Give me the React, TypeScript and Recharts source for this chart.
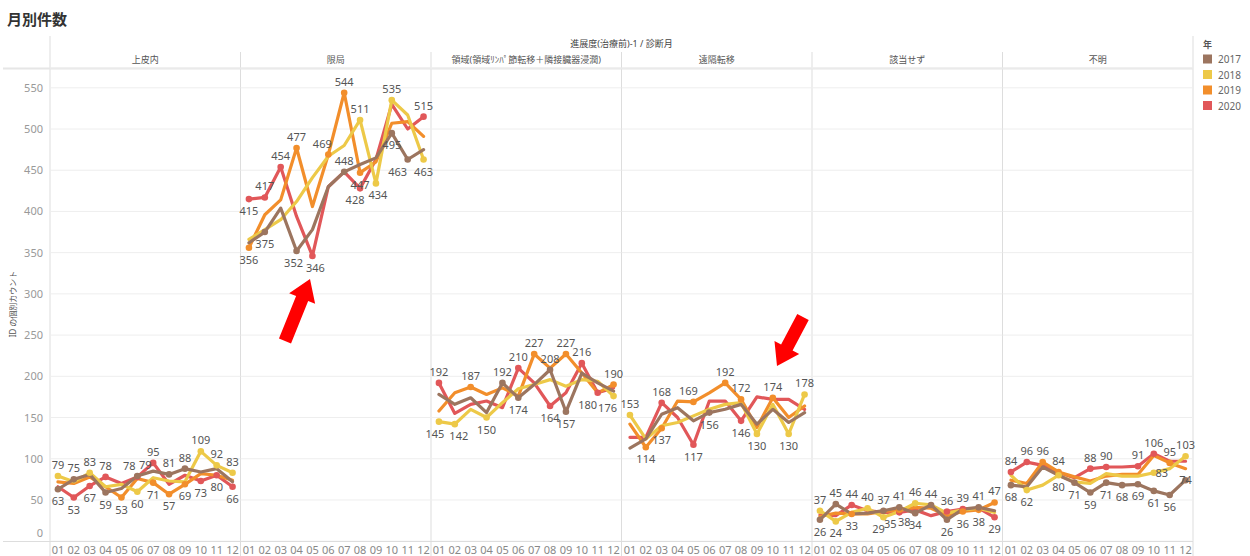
import { LineChart, Line, XAxis, YAxis, CartesianGrid } from "recharts";

const months = ["01", "02", "03", "04", "05", "06", "07", "08", "09", "10", "11", "12"];
const panels = ["上皮内", "限局", "領域(領域ﾘﾝﾊﾟ節転移＋隣接臓器浸潤)", "遠隔転移", "該当せず", "不明"];
const years = ["2017", "2018", "2019", "2020"];
const yTicks = [0, 50, 100, 150, 200, 250, 300, 350, 400, 450, 500, 550];

// one row per panel, 12 months each
const y2017 = [
  [63, 75, 81, 59, 64, 79, 85, 81, 88, 84, 88, 72],
  [362, 375, 404, 352, 378, 430, 448, 457, 465, 495, 463, 475],
  [178, 166, 174, 156, 192, 174, 190, 208, 157, 204, 192, 182],
  [113, 124, 154, 162, 146, 156, 160, 166, 142, 160, 144, 156],
  [26, 45, 33, 34, 37, 41, 34, 44, 26, 39, 41, 37],
  [68, 66, 90, 80, 71, 59, 71, 68, 69, 61, 56, 74],
];
const y2018 = [
  [79, 72, 83, 66, 69, 60, 77, 73, 72, 109, 92, 83],
  [366, 378, 390, 412, 441, 467, 480, 511, 434, 535, 517, 463],
  [145, 142, 160, 150, 168, 185, 190, 196, 188, 196, 194, 176],
  [153, 124, 140, 144, 152, 160, 166, 168, 130, 166, 130, 178],
  [37, 24, 35, 40, 29, 36, 46, 44, 34, 38, 40, 35],
  [80, 62, 68, 80, 72, 70, 82, 79, 79, 83, 88, 103],
];
const y2019 = [
  [72, 70, 78, 66, 53, 76, 71, 57, 69, 82, 80, 74],
  [356, 396, 414, 477, 406, 469, 544, 447, 460, 507, 509, 491],
  [158, 180, 187, 178, 186, 176, 227, 210, 227, 204, 180, 190],
  [142, 114, 137, 170, 169, 180, 192, 172, 138, 174, 150, 164],
  [30, 34, 33, 33, 36, 38, 41, 40, 31, 36, 38, 47],
  [74, 70, 96, 84, 78, 73, 79, 81, 81, 104, 95, 88],
];
const y2020 = [
  [66, 53, 67, 78, 70, 78, 95, 69, 80, 73, 80, 66],
  [415, 417, 454, 394, 346, 430, 448, 428, 463, 530, 500, 515],
  [192, 155, 166, 170, 162, 210, 192, 164, 180, 216, 180, 186],
  [126, 126, 168, 150, 117, 170, 170, 146, 175, 172, 172, 160],
  [32, 31, 44, 37, 35, 35, 38, 31, 36, 39, 40, 29],
  [84, 96, 92, 83, 77, 88, 90, 90, 91, 106, 97, 97],
];

const series: Record<string, number[][]> = { "2017": y2017, "2018": y2018, "2019": y2019, "2020": y2020 };
const colors: Record<string, string> = { "2017": "#9c755f", "2018": "#edc948", "2019": "#f28e2b", "2020": "#e15759" };

// labelled marks: [panel, year, month, a=above / b=below / c=on point, dx]
const marks: [number, string, number, string, number][] = [
  [0, "2017", 1, "b", 0], [0, "2017", 2, "a", 0], [0, "2017", 4, "b", 0], [0, "2017", 6, "a", 8],
  [0, "2017", 8, "a", 0], [0, "2017", 9, "a", 0],
  [0, "2018", 1, "a", 0], [0, "2018", 3, "a", 0], [0, "2018", 6, "b", 0], [0, "2018", 10, "a", 0],
  [0, "2018", 11, "a", 0], [0, "2018", 12, "a", 0],
  [0, "2019", 5, "b", 0], [0, "2019", 7, "b", 0], [0, "2019", 8, "b", 0], [0, "2019", 9, "b", 0],
  [0, "2020", 2, "b", 0], [0, "2020", 3, "b", 0], [0, "2020", 4, "a", 0], [0, "2020", 6, "a", -8],
  [0, "2020", 7, "a", 0], [0, "2020", 10, "b", 0], [0, "2020", 11, "b", 0], [0, "2020", 12, "b", 0],

  [1, "2017", 2, "b", 0], [1, "2017", 4, "b", -3], [1, "2017", 7, "a", 0], [1, "2017", 10, "b", 0],
  [1, "2017", 11, "b", -10],
  [1, "2018", 8, "a", 0], [1, "2018", 9, "b", 2], [1, "2018", 10, "a", 0], [1, "2018", 12, "b", 0],
  [1, "2019", 1, "b", 0], [1, "2019", 4, "a", 0], [1, "2019", 6, "a", -6], [1, "2019", 7, "a", 0],
  [1, "2019", 8, "b", 0],
  [1, "2020", 1, "b", 0], [1, "2020", 2, "a", 0], [1, "2020", 3, "a", 0], [1, "2020", 5, "b", 3],
  [1, "2020", 8, "b", -5], [1, "2020", 12, "a", 0],

  [2, "2017", 5, "a", 0], [2, "2017", 6, "b", 0], [2, "2017", 8, "a", 0], [2, "2017", 9, "b", 0],
  [2, "2018", 1, "b", -4], [2, "2018", 2, "b", 4], [2, "2018", 4, "b", 0], [2, "2018", 12, "b", -6],
  [2, "2019", 3, "a", 0], [2, "2019", 7, "a", 0], [2, "2019", 9, "a", 0], [2, "2019", 12, "a", 0],
  [2, "2020", 1, "a", 0], [2, "2020", 6, "a", 0], [2, "2020", 8, "b", 0], [2, "2020", 10, "a", 0],
  [2, "2020", 11, "b", -10],

  [3, "2017", 6, "b", 0],
  [3, "2018", 1, "a", 0], [3, "2018", 9, "b", 0], [3, "2018", 11, "b", 0], [3, "2018", 12, "a", 0],
  [3, "2019", 2, "b", 0], [3, "2019", 3, "b", 0], [3, "2019", 5, "a", -5], [3, "2019", 7, "a", 0],
  [3, "2019", 8, "a", 0], [3, "2019", 10, "a", 0],
  [3, "2020", 3, "a", 0], [3, "2020", 5, "b", 0], [3, "2020", 8, "b", 0],

  [4, "2017", 1, "b", 0], [4, "2017", 2, "a", 0], [4, "2017", 5, "a", 0], [4, "2017", 6, "a", 0],
  [4, "2017", 7, "b", 0], [4, "2017", 8, "a", 0], [4, "2017", 9, "b", 0], [4, "2017", 11, "a", 0],
  [4, "2018", 1, "a", 0], [4, "2018", 2, "b", 0], [4, "2018", 4, "a", 0], [4, "2018", 5, "b", -5],
  [4, "2018", 7, "a", 0],
  [4, "2019", 3, "b", 0], [4, "2019", 6, "b", 5], [4, "2019", 10, "b", 0], [4, "2019", 11, "b", 0],
  [4, "2019", 12, "a", 0],
  [4, "2020", 3, "a", 0], [4, "2020", 6, "b", -9], [4, "2020", 9, "a", 0], [4, "2020", 10, "a", 0],
  [4, "2020", 12, "b", 0],

  [5, "2017", 1, "b", 0], [5, "2017", 5, "b", 0], [5, "2017", 6, "b", 0], [5, "2017", 7, "b", 0],
  [5, "2017", 8, "b", 0], [5, "2017", 9, "b", 0], [5, "2017", 10, "b", 0], [5, "2017", 11, "b", 0],
  [5, "2017", 12, "c", 0],
  [5, "2018", 2, "b", 0], [5, "2018", 4, "b", 0], [5, "2018", 10, "c", 8], [5, "2018", 12, "a", 0],
  [5, "2019", 3, "a", 0], [5, "2019", 4, "a", 0], [5, "2019", 11, "a", 0],
  [5, "2020", 1, "a", 0], [5, "2020", 2, "a", 0], [5, "2020", 6, "a", 0], [5, "2020", 7, "a", 0],
  [5, "2020", 9, "a", 0], [5, "2020", 10, "a", 0],
];

const FONT = "'Noto Sans', 'Noto Sans CJK JP', sans-serif";
const PLOT_TOP = 68;
const PLOT_H = 473.2;
const CHART_H = 488;
const AXIS_W = 50;
const PANEL_W = 190.5;

const makeDot = (p: number, yr: string) => (props: any) => {
  const { cx, cy, index } = props;
  const k = `d-${p}-${yr}-${index}`;
  const hit = marks.find((m) => m[0] === p && m[1] === yr && m[2] === index + 1);
  if (!hit || cx == null || cy == null) return <g key={k} />;
  const ty = hit[3] === "a" ? cy - 7 : hit[3] === "b" ? cy + 16 : cy + 4;
  return (
    <g key={k}>
      <circle cx={cx} cy={cy} r={3.3} fill={colors[yr]} />
      <text x={cx + hit[4]} y={ty} textAnchor="middle" fontSize={11} fill="#555" fontFamily={FONT}>
        {series[yr][p][index]}
      </text>
    </g>
  );
};

const YTick = (props: any) => {
  const { x, y, payload } = props;
  return (
    <text x={x} y={payload.value === 0 ? y - 4 : y + 4} textAnchor="end" fontSize={11} fill="#999" fontFamily={FONT}>
      {payload.value}
    </text>
  );
};

function Panel({ p }: { p: number }) {
  const first = p === 0;
  const w = PANEL_W + (first ? AXIS_W : 0);
  const left = first ? 0 : AXIS_W + p * PANEL_W;
  const data = months.map((m, i) => ({
    m,
    y2017: y2017[p][i],
    y2018: y2018[p][i],
    y2019: y2019[p][i],
    y2020: y2020[p][i],
  }));
  const pad = PANEL_W / 24;
  return (
    <div style={{ position: "absolute", left, top: PLOT_TOP }}>
      <LineChart width={w} height={CHART_H} data={data} margin={{ top: 0, right: 0, bottom: 0, left: 0 }}>
        <CartesianGrid vertical={false} stroke="#eeeeee" />
        <XAxis
          dataKey="m"
          interval={0}
          padding={{ left: pad, right: pad }}
          axisLine={false}
          tickLine={false}
          tickSize={0}
          tickMargin={5}
          height={CHART_H - PLOT_H}
          tick={{ fontSize: 11, fill: "#888", fontFamily: FONT }}
        />
        <YAxis
          hide={!first}
          width={AXIS_W}
          domain={[0, 574]}
          ticks={yTicks}
          axisLine={false}
          tickLine={false}
          tickSize={0}
          tickMargin={7}
          tick={<YTick />}
        />
        {["2020", "2019", "2018", "2017"].map((yr) => (
          <Line
            key={yr}
            dataKey={`y${yr}`}
            stroke={colors[yr]}
            strokeWidth={3.2}
            dot={makeDot(p, yr)}
            activeDot={false}
            isAnimationActive={false}
            strokeLinejoin="round"
            strokeLinecap="round"
          />
        ))}
      </LineChart>
    </div>
  );
}

function arrow(tx: number, ty: number, hx: number, hy: number) {
  const len = Math.hypot(hx - tx, hy - ty);
  const ux = (hx - tx) / len;
  const uy = (hy - ty) / len;
  const nx = -uy;
  const ny = ux;
  const shaft = 6.5;
  const head = 14;
  const hl = 21;
  const bx = hx - ux * hl;
  const by = hy - uy * hl;
  const pts = [
    [tx + nx * shaft, ty + ny * shaft],
    [bx + nx * shaft, by + ny * shaft],
    [bx + nx * head, by + ny * head],
    [hx, hy],
    [bx - nx * head, by - ny * head],
    [bx - nx * shaft, by - ny * shaft],
    [tx - nx * shaft, ty - ny * shaft],
  ];
  return pts.map((q) => q.join(",")).join(" ");
}

export default function App() {
  const right = AXIS_W + 6 * PANEL_W;
  return (
    <div style={{ position: "absolute", left: 0, top: 0, width: 1250, height: 556, background: "#fff", overflow: "hidden", fontFamily: FONT }}>
      <style>{`.recharts-surface { overflow: visible; } .recharts-wrapper { overflow: visible; }`}</style>
      <svg width={1250} height={556} style={{ position: "absolute", left: 0, top: 0 }}>
        <text x={7} y={25} fontSize={15} fontWeight="bold" fill="#333" fontFamily={FONT}>月別件数</text>
        <text x={(AXIS_W + right) / 2} y={47} textAnchor="middle" fontSize={9} fill="#444" fontFamily={FONT}>
          進展度(治療前)-1 / 診断月
        </text>
        {panels.map((name, i) => (
          <text key={name} x={AXIS_W + (i + 0.5) * PANEL_W} y={63} textAnchor="middle" fontSize={9} fill="#555" fontFamily={FONT}>
            {name}
          </text>
        ))}
        <line x1={AXIS_W} y1={36} x2={AXIS_W} y2={556} stroke="#dddddd" />
        <line x1={right} y1={36} x2={right} y2={556} stroke="#dddddd" />
        {[1, 2, 3, 4, 5].map((i) => (
          <line key={i} x1={AXIS_W + i * PANEL_W} y1={52} x2={AXIS_W + i * PANEL_W} y2={556} stroke="#dddddd" />
        ))}
        <line x1={3} y1={68.5} x2={right} y2={68.5} stroke="#e6e6e6" strokeWidth={2} />
        <text
          transform="translate(16,304) rotate(-90)"
          textAnchor="middle"
          fontSize={8}
          fill="#555"
          fontFamily={FONT}
        >
          ID の個別カウント
        </text>
        <text x={1203} y={48} fontSize={9} fill="#555" fontWeight="bold" fontFamily={FONT}>年</text>
        {years.map((yr, i) => (
          <g key={yr}>
            <rect x={1203} y={54.5 + i * 15.5} width={9} height={9} fill={colors[yr]} />
            <text x={1218} y={63 + i * 15.5} fontSize={10} fill="#666" fontFamily={FONT}>{yr}</text>
          </g>
        ))}
      </svg>
      {panels.map((_, p) => (
        <Panel key={p} p={p} />
      ))}
      <svg width={1250} height={556} style={{ position: "absolute", left: 0, top: 0, pointerEvents: "none" }}>
        <line x1={3} y1={541.5} x2={right} y2={541.5} stroke="#dddddd" />
        <polygon points={arrow(285, 341, 310, 279)} fill="#ff0000" />
        <polygon points={arrow(803, 317, 777, 366)} fill="#ff0000" />
      </svg>
    </div>
  );
}
